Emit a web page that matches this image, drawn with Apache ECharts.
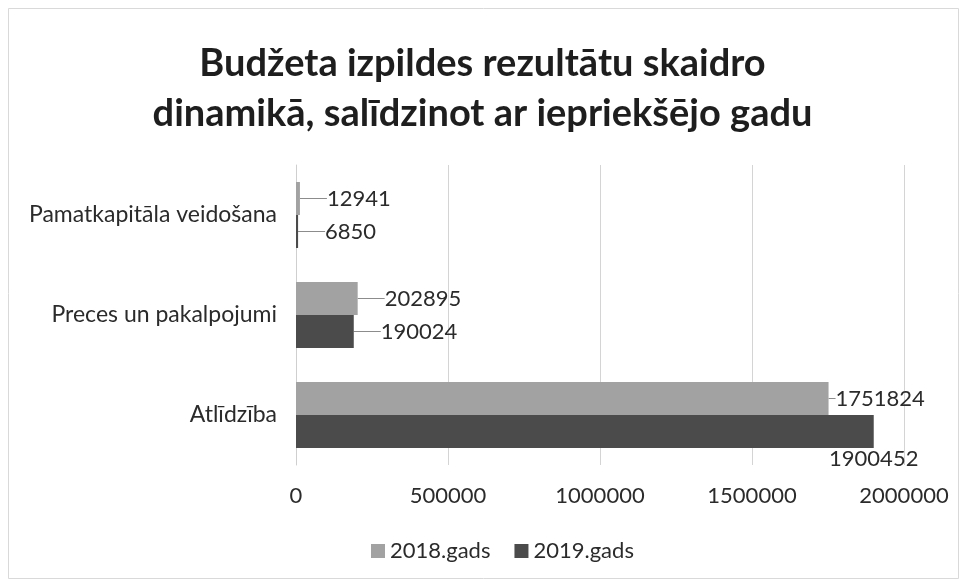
<!DOCTYPE html>
<html>
<head>
<meta charset="utf-8">
<script src="https://cdn.jsdelivr.net/npm/echarts@6/dist/echarts.min.js"></script>
<style>
  html, body { margin: 0; padding: 0; background: #ffffff; }
  #chart { width: 965px; height: 584px; }
</style>
</head>
<body>
<div id="chart"></div>
<script>
// kategorijas (no apakšas uz augšu, kā y asij)
const categories = ['Atlīdzība', 'Preces un pakalpojumi', 'Pamatkapitāla veidošana'];
const values2018 = [1751824, 202895, 12941];
const values2019 = [1900452, 190024, 6850];
const seriesNames = ['2018.gads', '2019.gads'];
const xTicks = { min: 0, max: 2000000, interval: 500000 };

const chart = echarts.init(document.getElementById('chart'), null, { renderer: 'canvas' });

const labelFont = { fontFamily: 'Lato', fontSize: 22, color: '#2b2b2b' };

function barSeries(name, values, color, bottomLabel) {
  return {
    name: name,
    type: 'bar',
    barGap: '0%',
    barCategoryGap: '34%',
    itemStyle: { color: color },
    label: Object.assign({ show: true, position: 'right', distance: 7 }, labelFont),
    labelLine: { show: true, lineStyle: { color: '#8c8c8c', width: 1 } },
    labelLayout: function (p) {
      // malas etiķetes ar līniju, izņemot lielāko kategoriju
      return p.dataIndex === 0 ? {} : { dx: 20 };
    },
    data: values.map(function (v, i) {
      if (bottomLabel && i === 0) {
        return {
          value: v,
          label: { position: ['100%', '100%'], align: 'center', verticalAlign: 'top', offset: [4, 11] }
        };
      }
      return v;
    })
  };
}

chart.setOption({
  backgroundColor: '#ffffff',
  animation: false,
  title: {
    text: 'Budžeta izpildes rezultātu skaidro\ndinamikā, salīdzinot ar iepriekšējo gadu',
    left: 'center',
    top: 34,
    textStyle: {
      fontFamily: 'Lato',
      fontWeight: 'bold',
      fontSize: 38,
      lineHeight: 50,
      color: '#1e1e1e'
    }
  },
  legend: {
    top: 535,
    left: 366,
    itemWidth: 14,
    itemHeight: 14,
    itemGap: 24,
    icon: 'rect',
    textStyle: labelFont,
    data: seriesNames
  },
  grid: { left: 296, right: 61, top: 165, bottom: 119 },
  xAxis: {
    type: 'value',
    min: xTicks.min,
    max: xTicks.max,
    interval: xTicks.interval,
    axisLine: { show: false },
    axisTick: { show: false },
    axisLabel: Object.assign({ margin: 20, formatter: function (v) { return String(v); } }, labelFont),
    splitLine: { lineStyle: { color: '#d4d4d4', width: 1 } }
  },
  yAxis: {
    type: 'category',
    data: categories,
    axisLine: { show: true, lineStyle: { color: '#cfcfcf' } },
    axisTick: { show: false },
    axisLabel: Object.assign({ margin: 19 }, labelFont, { fontSize: 23 })
  },
  series: [
    barSeries(seriesNames[0], values2018, '#a2a2a2', false),
    barSeries(seriesNames[1], values2019, '#4b4b4b', true)
  ],
  graphic: [{
    type: 'rect',
    shape: { x: 8.5, y: 8.5, width: 950, height: 570 },
    style: { fill: 'none', stroke: '#d9d9d9', lineWidth: 1 },
    silent: true
  }]
});
</script>
</body>
</html>
